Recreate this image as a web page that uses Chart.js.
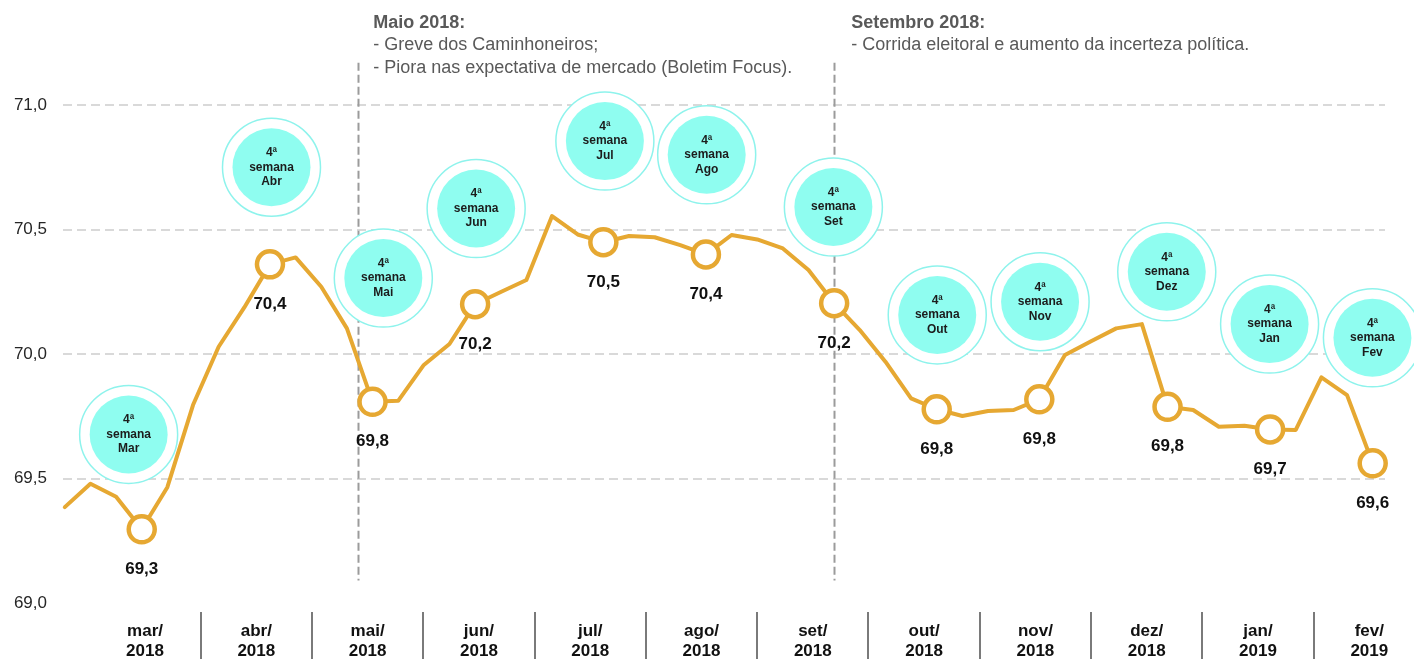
<!DOCTYPE html>
<html lang="pt-BR">
<head>
<meta charset="utf-8">
<title>Índice semanal - mar/2018 a fev/2019</title>
<script src="https://cdn.jsdelivr.net/npm/chart.js@4.4.1/dist/chart.umd.min.js"></script>
<style>
  html, body { margin: 0; padding: 0; background: #fff; }
  #wrap { position: relative; width: 1414px; height: 659px; }
</style>
</head>
<body>
<div id="wrap"><canvas id="chart"></canvas></div>
<script>
"use strict";

const FONT = "'Liberation Sans', Arial, Helvetica, sans-serif";
const GOLD = "#E6A832";

// weekly series (index 0 = first week shown)
const weekly = [
  69.385, 69.479, 69.427, 69.296, 69.465, 69.795, 70.029, 70.187,
  70.360, 70.388, 70.270, 70.103, 69.808, 69.812, 69.956, 70.040,
  70.200, 70.249, 70.297, 70.554, 70.480, 70.449, 70.474, 70.469,
  70.437, 70.400, 70.478, 70.460, 70.424, 70.337, 70.204, 70.096,
  69.969, 69.822, 69.778, 69.751, 69.771, 69.775, 69.818, 69.996,
  70.050, 70.103, 70.120, 69.788, 69.775, 69.708, 69.712, 69.697,
  69.695, 69.906, 69.835, 69.561,
];

// 4th week of each month: which week, and the printed value
const markerIdx = [3, 8, 12, 16, 21, 25, 30, 34, 38, 43, 47, 51];
const markerText = ["69,3", "70,4", "69,8", "70,2", "70,5", "70,4", "70,2", "69,8", "69,8", "69,8", "69,7", "69,6"];

// "4ª semana" bubbles, anchored in data units (week, value)
const bubbleMonth = ["Mar", "Abr", "Mai", "Jun", "Jul", "Ago", "Set", "Out", "Nov", "Dez", "Jan", "Fev"];
const bubbleWeek = [2.49, 8.06, 12.42, 16.04, 21.06, 25.03, 29.97, 34.02, 38.03, 42.97, 46.98, 50.99];
const bubbleValue = [69.677, 70.75, 70.305, 70.584, 70.855, 70.80, 70.59, 70.157, 70.21, 70.33, 70.12, 70.065];

const monthLabels = [
  ["mar/", "2018"], ["abr/", "2018"], ["mai/", "2018"], ["jun/", "2018"],
  ["jul/", "2018"], ["ago/", "2018"], ["set/", "2018"], ["out/", "2018"],
  ["nov/", "2018"], ["dez/", "2018"], ["jan/", "2019"], ["fev/", "2019"],
];
const yTicks = [69, 69.5, 70, 70.5, 71];

// event notes with the dashed marker line
const eventWeek = [11.44, 30.0];
const eventTitle = ["Maio 2018:", "Setembro 2018:"];
const eventLines = [
  ["- Greve dos Caminhoneiros;", "- Piora nas expectativa de mercado (Boletim Focus)."],
  ["- Corrida eleitoral e aumento da incerteza política."],
];

const commaNum = (v) => v.toFixed(1).replace(".", ",");

const decor = {
  id: "decor",
  beforeDatasetsDraw(chart) {
    const { ctx, scales: { x, y } } = chart;
    ctx.save();
    // dashed event lines
    ctx.strokeStyle = "#9b9b9b";
    ctx.lineWidth = 2;
    ctx.setLineDash([8, 4]);
    eventWeek.forEach((w) => {
      const px = Math.round(x.getPixelForValue(w)) + 0.5;
      ctx.beginPath();
      ctx.moveTo(px, y.getPixelForValue(71.17));
      ctx.lineTo(px, y.getPixelForValue(69.09));
      ctx.stroke();
    });
    ctx.setLineDash([]);

    // bubbles
    bubbleMonth.forEach((mo, i) => {
      const cx = x.getPixelForValue(bubbleWeek[i]);
      const cy = y.getPixelForValue(bubbleValue[i]);
      ctx.beginPath();
      ctx.arc(cx, cy, 49, 0, Math.PI * 2);
      ctx.fillStyle = "#fff";
      ctx.fill();
      ctx.lineWidth = 1.5;
      ctx.strokeStyle = "#8EF3EC";
      ctx.stroke();
      ctx.beginPath();
      ctx.arc(cx, cy, 39, 0, Math.PI * 2);
      ctx.fillStyle = "#8FFDF0";
      ctx.fill();
      ctx.fillStyle = "#1c1c1c";
      ctx.font = `bold 12px ${FONT}`;
      ctx.textAlign = "center";
      ctx.textBaseline = "middle";
      ctx.fillText("4ª", cx, cy - 14.5);
      ctx.fillText("semana", cx, cy);
      ctx.fillText(mo, cx, cy + 14.5);
    });

    // event notes
    eventWeek.forEach((w, i) => {
      const tx = x.getPixelForValue(w) + 15 + i * 2;
      ctx.fillStyle = "#595959";
      ctx.textAlign = "left";
      ctx.textBaseline = "middle";
      ctx.font = `bold 18px ${FONT}`;
      ctx.fillText(eventTitle[i], tx, 23);
      ctx.font = `18px ${FONT}`;
      eventLines[i].forEach((ln, j) => ctx.fillText(ln, tx, 45.5 + j * 22.5));
    });
    ctx.restore();
  },
  afterDatasetsDraw(chart) {
    const { ctx } = chart;
    const pts = chart.getDatasetMeta(0).data;
    ctx.save();
    ctx.fillStyle = "#111";
    ctx.font = `bold 17px ${FONT}`;
    ctx.textAlign = "center";
    ctx.textBaseline = "middle";
    markerIdx.forEach((idx, i) => {
      const p = pts[idx];
      ctx.fillText(markerText[i], p.x, p.y + 40);
    });
    ctx.restore();
  },
  afterDraw(chart) {
    const { ctx, scales: { m } } = chart;
    ctx.save();
    ctx.strokeStyle = "#7a7a7a";
    ctx.lineWidth = 2;
    for (let k = 0; k < monthLabels.length - 1; k++) {
      const px = Math.round(m.getPixelForValue(k + 0.5));
      ctx.beginPath();
      ctx.moveTo(px, m.top + 9);
      ctx.lineTo(px, m.bottom);
      ctx.stroke();
    }
    ctx.restore();
  },
};

new Chart(document.getElementById("chart"), {
  type: "line",
  data: {
    datasets: [
      {
        data: weekly.map((v, i) => ({ x: i, y: v })),
        xAxisID: "x",
        yAxisID: "y",
        borderColor: GOLD,
        borderWidth: 4,
        borderJoinStyle: "round",
        borderCapStyle: "round",
        tension: 0,
        fill: false,
        pointRadius: weekly.map((_, i) => (markerIdx.includes(i) ? 13 : 0)),
        pointHoverRadius: weekly.map((_, i) => (markerIdx.includes(i) ? 13 : 0)),
        pointBackgroundColor: "#fff",
        pointBorderColor: GOLD,
        pointBorderWidth: 4.5,
        clip: false,
      },
    ],
  },
  options: {
    responsive: true,
    maintainAspectRatio: false,
    animation: false,
    events: [],
    layout: { autoPadding: false, padding: { top: 0, right: 29, bottom: 0, left: 0 } },
    plugins: { legend: { display: false }, tooltip: { enabled: false } },
    scales: {
      x: {
        type: "linear",
        display: false,
        min: -0.07,
        max: 51.48,
      },
      m: {
        type: "linear",
        axis: "x",
        position: "bottom",
        min: -0.737,
        max: 11.141,
        afterBuildTicks: (s) => { s.ticks = monthLabels.map((_, i) => ({ value: i })); },
        afterFit: (s) => { s.height = 56; s.paddingLeft = 0; s.paddingRight = 0; },
        grid: { display: false, drawTicks: false },
        border: { display: false },
        ticks: {
          autoSkip: false,
          maxRotation: 0,
          padding: 18.7,
          color: "#111",
          font: { family: FONT, size: 17, weight: "bold", lineHeight: "20px" },
          callback: (v) => monthLabels[v],
        },
      },
      y: {
        type: "linear",
        position: "left",
        min: 69,
        max: 71.4217,
        afterBuildTicks: (s) => { s.ticks = yTicks.map((v) => ({ value: v })); },
        afterFit: (s) => { s.width = 63; s.paddingTop = 0; s.paddingBottom = 0; },
        grid: {
          drawTicks: false,
          lineWidth: 2,
          color: (c) => (c.tick && c.tick.value === 69 ? "rgba(0,0,0,0)" : "#d9d9d9"),
        },
        border: { display: false, dash: [9, 5] },
        ticks: {
          padding: 16,
          color: "#262626",
          font: { family: FONT, size: 17 },
          callback: (v) => commaNum(v),
        },
      },
    },
  },
  plugins: [decor],
});
</script>
</body>
</html>
